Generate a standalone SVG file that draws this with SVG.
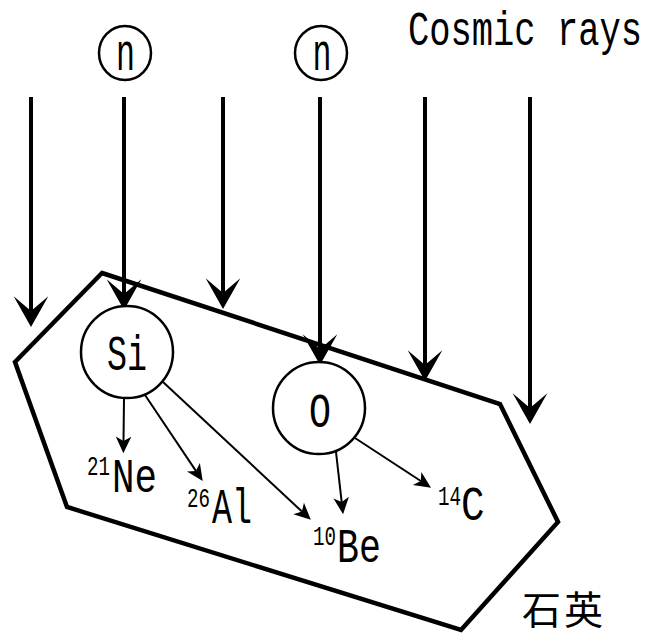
<svg xmlns="http://www.w3.org/2000/svg" width="651" height="637" viewBox="0 0 651 637">
<style>
.lbl{font-family:"Liberation Mono",monospace;fill:#000}
.big{font-size:49px}
.sup{font-size:27px}
.mid{text-anchor:middle}
.ring{fill:#fff;stroke:#000;stroke-width:2.5}
.ray{stroke:#000;stroke-width:4;fill:none;marker-end:url(#bigHead)}
.prod{stroke:#000;stroke-width:2;fill:none;marker-end:url(#smallHead)}
</style>
<defs>
<marker id="bigHead" markerUnits="userSpaceOnUse" orient="auto" refX="0" refY="0" markerWidth="40" markerHeight="40" viewBox="-12 -15 26 30" overflow="visible">
<path d="M12,0 L-11,-13 L0,0 L-11,13 Z" fill="#000"/>
</marker>
<marker id="smallHead" markerUnits="userSpaceOnUse" orient="auto" refX="0" refY="0" markerWidth="20" markerHeight="20" viewBox="-5 -8 18 16" overflow="visible">
<path d="M11,0 L-4,-7 L0,0 L-4,7 Z" fill="#000"/>
</marker>
</defs>
<rect width="651" height="637" fill="#fff"/>
<g id="quartz">
<polygon points="102,273 500,404 558,522 461,630 67,507 15,362" fill="none" stroke="#000" stroke-width="4.5" stroke-linejoin="miter"/>
<text x="522" y="624" style="font-family:'Noto Sans CJK JP',sans-serif" font-size="39" letter-spacing="3" fill="#000">石英</text>
</g>
<g id="cosmic-rays-label">
<text class="lbl big" transform="translate(408,45) scale(0.7236,1)">Cosmic rays</text>
</g>
<g id="neutron-1">
<ellipse class="ring" cx="125" cy="53" rx="26" ry="27"/>
<text class="lbl mid" font-size="51" transform="translate(125.5,70) scale(0.62,1)">n</text>
</g>
<g id="neutron-2">
<ellipse class="ring" cx="321" cy="53" rx="26" ry="27"/>
<text class="lbl mid" font-size="51" transform="translate(322,70) scale(0.62,1)">n</text>
</g>
<g id="connectors">
<line class="ray" x1="31" y1="97" x2="31" y2="311"/>
<line class="ray" x1="124" y1="97" x2="124" y2="294"/>
<line class="ray" x1="223" y1="97" x2="223" y2="293"/>
<line class="ray" x1="320" y1="97" x2="320" y2="349"/>
<line class="ray" x1="425" y1="97" x2="425" y2="365"/>
<line class="ray" x1="530" y1="97" x2="530" y2="408"/>
<line class="prod" x1="124" y1="398" x2="123.5" y2="441"/>
<line class="prod" x1="145" y1="395" x2="195.9" y2="470.9"/>
<line class="prod" x1="163" y1="382" x2="301.9" y2="511.5"/>
<line class="prod" x1="336" y1="452" x2="341.7" y2="502.1"/>
<line class="prod" x1="355" y1="438" x2="420.8" y2="481"/>
</g>
<g id="Si">
<circle class="ring" cx="127" cy="352" r="46"/>
<text class="lbl big mid" transform="translate(127,370) scale(0.68,1)">Si</text>
</g>
<g id="O">
<circle class="ring" cx="319" cy="408" r="46"/>
<text class="lbl big mid" transform="translate(320,427) scale(0.748,1)">O</text>
</g>
<g id="Ne21">
<text class="lbl sup" transform="translate(87,475) scale(0.71,1)">21</text>
<text class="lbl big" transform="translate(112,492) scale(0.765,1)">Ne</text>
</g>
<g id="Al26">
<text class="lbl sup" transform="translate(187,507) scale(0.71,1)">26</text>
<text class="lbl big" transform="translate(212,523) scale(0.68,1)">Al</text>
</g>
<g id="Be10">
<text class="lbl sup" transform="translate(313,545) scale(0.71,1)">10</text>
<text class="lbl big" transform="translate(337,562) scale(0.748,1)">Be</text>
</g>
<g id="C14">
<text class="lbl sup" transform="translate(438,505) scale(0.71,1)">14</text>
<text class="lbl big" transform="translate(461,520) scale(0.8,1)">C</text>
</g>
</svg>
